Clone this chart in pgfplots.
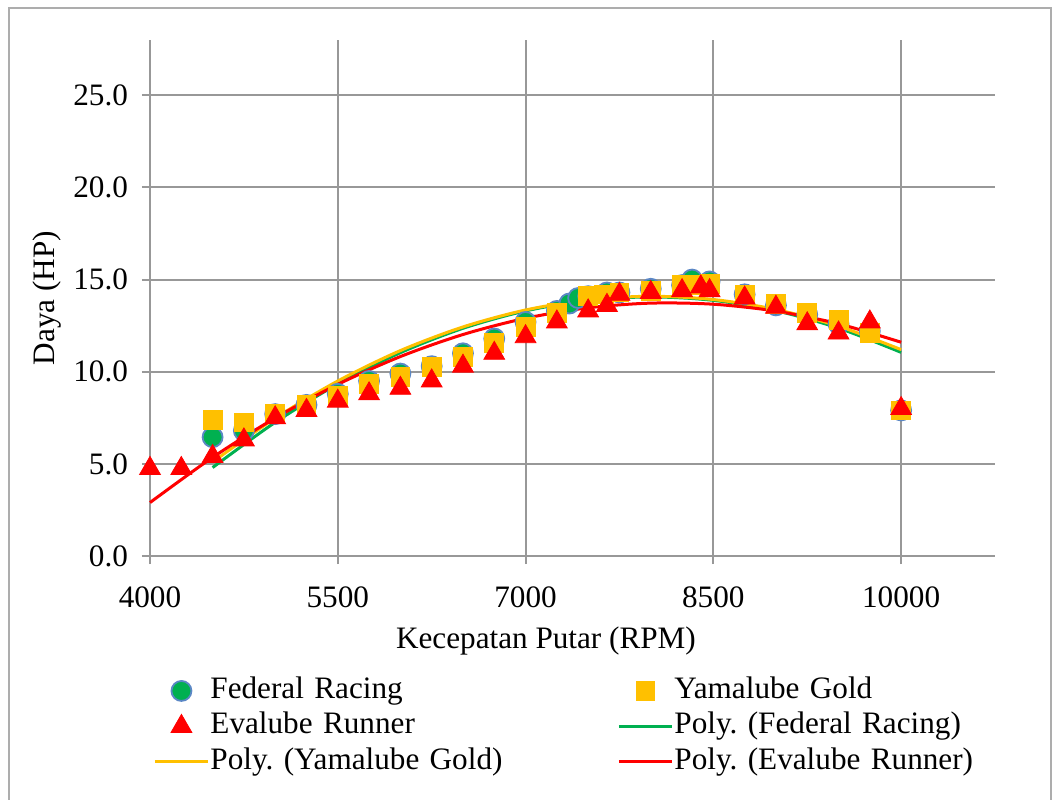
\documentclass[border=0pt]{standalone}
\usepackage{pgfplots}
\pgfplotsset{compat=1.18}
\usepackage{fontspec}
\setmainfont{Liberation Serif}
\definecolor{fedgreen}{HTML}{00B050}
\definecolor{fedblue}{HTML}{5B87C5}
\definecolor{yamgold}{HTML}{FFC000}
\definecolor{evared}{HTML}{FF0000}
\definecolor{gridgray}{HTML}{989898}
\begin{document}
\frenchspacing
\begin{tikzpicture}[x=0.5pt,y=0.5pt,font=\fontsize{15.6pt}{18pt}\selectfont]
\useasboundingbox (0,0) rectangle (1060,799);
\draw[gridgray!80,line width=1pt] (9,-20) rectangle (1051,791);
\begin{axis}[
  at={(75pt,121.5pt)}, anchor=south west,
  scale only axis, width=422.5pt, height=258pt,
  xmin=4000, xmax=10750, ymin=0, ymax=28,
  xtick={4000,5500,7000,8500,10000},
  ytick={0,5,10,15,20,25},
  grid=major,
  major grid style={gridgray, line width=1pt},
  axis line style={draw=none},
  tick align=outside, major tick length=4pt,
  tick style={gridgray, line width=1pt},
  xtick pos=bottom, ytick pos=left,
  /pgf/number format/assume math mode=true,
  xticklabel={\pgfmathprintnumber[fixed,1000 sep={}]{\tick}},
  yticklabel={\pgfmathprintnumber[fixed,fixed zerofill,precision=1]{\tick}},
  scaled x ticks=false,
  xticklabel style={yshift=-8pt},
  yticklabel style={xshift=-3.5pt},
  xlabel={Kecepatan Putar (RPM)},
  ylabel={Daya (HP)},
  xlabel style={at={(axis description cs:0.4686,-0.165)}, anchor=center},
  ylabel style={at={(axis description cs:-0.122,0.5)}, anchor=center, rotate=0},
  clip=false,
  legend columns=2,
  legend cell align=left,
  legend style={draw=none, fill=none, at={(axis description cs:0.0036,-0.2326)}, anchor=north west,
    inner sep=0pt, row sep=3.25pt,
    nodes={inner sep=0pt, text height=11pt, text depth=3.5pt, text width=203.5pt, align=left},
    /tikz/every odd column/.append style={column sep=0.5pt}},
  legend image code/.code={\draw[mark repeat=2,mark phase=2,#1] plot coordinates {(0pt,0pt) (13.25pt,0pt) (26.5pt,0pt)};},
]
% Federal Racing
\addplot[only marks, mark=*, mark size=5pt, mark options={fill=fedgreen, draw=fedblue, line width=0.9pt}] coordinates {
(4500,6.45) (4750,6.8) (5000,7.7) (5250,8.2) (5500,8.8) (5750,9.5) (6000,9.9) (6250,10.3)
(6500,11.0) (6750,11.8) (7000,12.7) (7250,13.3) (7350,13.7) (7420,14.0) (7500,14.1)
(7650,14.3) (7750,14.3) (8000,14.5) (8250,14.7) (8330,15.0) (8470,14.9) (8750,14.2)
(9000,13.6) (9250,13.1) (9500,12.6) (9750,12.2) (10000,7.9)};
\addlegendentry{Federal Racing}
% Yamalube Gold
\addplot[only marks, mark=square*, mark size=4.7pt, mark options={fill=yamgold, draw=yamgold}] coordinates {
(4500,7.4) (4750,7.25) (5000,7.7) (5250,8.2) (5500,8.7) (5750,9.35) (6000,9.7) (6250,10.25)
(6500,10.8) (6750,11.55) (7000,12.45) (7250,13.2) (7500,14.1) (7625,14.2) (7750,14.3)
(8000,14.4) (8250,14.7) (8400,14.7) (8470,14.75) (8750,14.2) (9000,13.7) (9250,13.2)
(9500,12.8) (9750,12.1) (10000,7.9)};
\addlegendentry{Yamalube Gold}
% Evalube Runner
\addplot[only marks, mark=triangle*, mark size=6pt, mark options={fill=evared, draw=evared}] coordinates {
(4000,4.75) (4250,4.75) (4500,5.4) (4750,6.3) (5000,7.5) (5250,7.9) (5500,8.4) (5750,8.8)
(6000,9.1) (6250,9.5) (6500,10.3) (6750,11.0) (7000,11.9) (7250,12.7) (7500,13.3)
(7650,13.6) (7750,14.2) (8000,14.3) (8250,14.4) (8400,14.6) (8470,14.4) (8750,14.0)
(9000,13.5) (9250,12.6) (9500,12.1) (9750,12.7) (10000,8.0)};
\addlegendentry{Evalube Runner}
% Trendlines
\addplot[fedgreen, line width=1.5pt, smooth, no marks] coordinates {
(4500,4.80) (5000,7.255) (5500,9.332) (6000,11.032) (6500,12.355) (7000,13.3) (7500,13.868)
(8000,14.059) (8500,13.873) (9000,13.309) (9500,12.368) (10000,11.05)};
\addlegendentry{Poly. (Federal Racing)}
\addplot[yamgold, line width=1.5pt, smooth, no marks] coordinates {
(4500,5.10) (5000,7.48) (5500,9.496) (6000,11.146) (6500,12.43) (7000,13.35) (7500,13.904)
(8000,14.094) (8500,13.918) (9000,13.377) (9500,12.471) (10000,11.20)};
\addlegendentry{Poly. (Yamalube Gold)}
\addplot[evared, line width=1.5pt, smooth, no marks] coordinates {
(4000,2.9) (4500,5.351) (5000,7.489) (5500,9.3125) (6000,10.822) (6500,12.018) (7000,12.9)
(7500,13.468) (8000,13.722) (8500,13.6625) (9000,13.289) (9500,12.601) (10000,11.6)};
\addlegendentry{Poly. (Evalube Runner)}
\end{axis}
\end{tikzpicture}
\end{document}
